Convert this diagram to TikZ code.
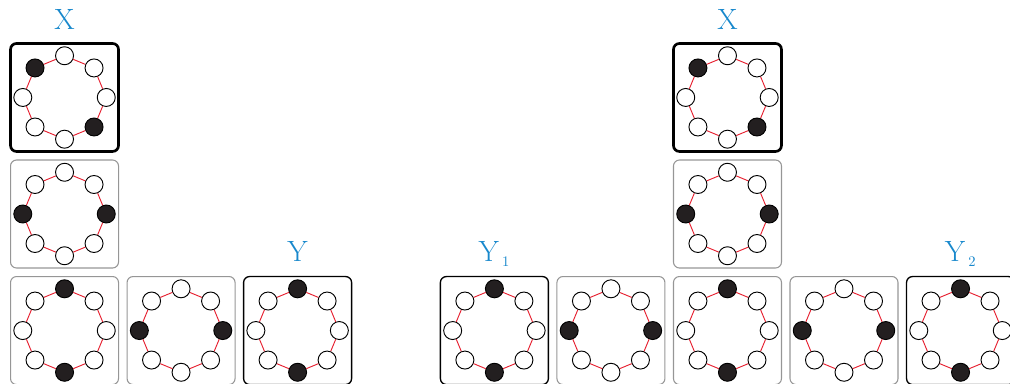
\documentclass[tikz,border=0pt]{standalone}
\usetikzlibrary{positioning,calc}
\definecolor{tagblue}{RGB}{24,136,204}
\definecolor{linkred}{RGB}{230,32,48}
\definecolor{beadfill}{RGB}{35,31,32}
\definecolor{boxgray}{RGB}{150,150,150}
\tikzset{node distance=6.4pt,
  cell/.style={draw=boxgray,line width=0.8pt,rounded corners=4.5pt,minimum size=81pt,inner sep=0pt,outer sep=0pt},
  pick/.style={cell,draw=black,line width=1pt},
  start/.style={cell,draw=black,line width=2pt},
  bead/.style={draw,circle,line width=0.7pt,minimum size=13.5pt,inner sep=0pt,fill=white},
  link/.style={draw=linkred,line width=0.7pt},
  tag/.style={text=tagblue,inner sep=0pt,outer sep=0pt,text depth=0pt,font=\fontsize{22}{22}\selectfont}}

% eight beads round a box; #2 picks the opposite pair that is filled
\newcommand{\ring}[2]{%
  \foreach \a in {0,...,7}{
    \pgfmathtruncatemacro{\m}{mod(\a,4)}
    \ifnum\m=#2 \def\beadcol{beadfill}\else\def\beadcol{white}\fi
    \node[bead,fill=\beadcol] (#1-\a) at ($(#1)+(\a*45:31.3pt)$) {};
  }
  \foreach \a in {0,...,7}{
    \pgfmathtruncatemacro{\b}{mod(\a+1,8)}
    \draw[link] (#1-\a) -- (#1-\b);
  }}

\begin{document}
\begin{tikzpicture}
  \useasboundingbox (0,0) rectangle (757.5pt,-287.25pt);

  % left group
  \node[start] (xa) at (48.4pt,-73.1pt) {};
  \node[cell]  (xb) [below=of xa] {};
  \node[cell]  (xc) [below=of xb] {};
  \node[cell]  (xd) [right=of xc] {};
  \node[pick]  (ya) [right=of xd] {};

  % right group
  \node[start] (xr) at (545.6pt,-73.1pt) {};
  \node[cell]  (mr) [below=of xr] {};
  \node[cell]  (cr) [below=of mr] {};
  \node[cell]  (br) [left=of cr] {};
  \node[pick]  (y1) [left=of br] {};
  \node[cell]  (dr) [right=of cr] {};
  \node[pick]  (y2) [right=of dr] {};

  \ring{xa}{3} \ring{xb}{0} \ring{xc}{2} \ring{xd}{0} \ring{ya}{2}
  \ring{xr}{3} \ring{mr}{0} \ring{cr}{2} \ring{br}{0} \ring{y1}{2}
  \ring{dr}{0} \ring{y2}{2}

  \node[tag] (lxa) [above=10.8pt of xa] {X};
  \node[tag] (lya) [above=11pt of ya] {Y};
  \node[tag] (lxr) [above=10.8pt of xr] {X};
  \node[tag] (ly1) [above=11pt of y1] {Y$_{\,\scriptscriptstyle 1}$};
  \node[tag] (ly2) [above=11pt of y2] {Y$_{\,\scriptscriptstyle 2}$};
\end{tikzpicture}
\end{document}
